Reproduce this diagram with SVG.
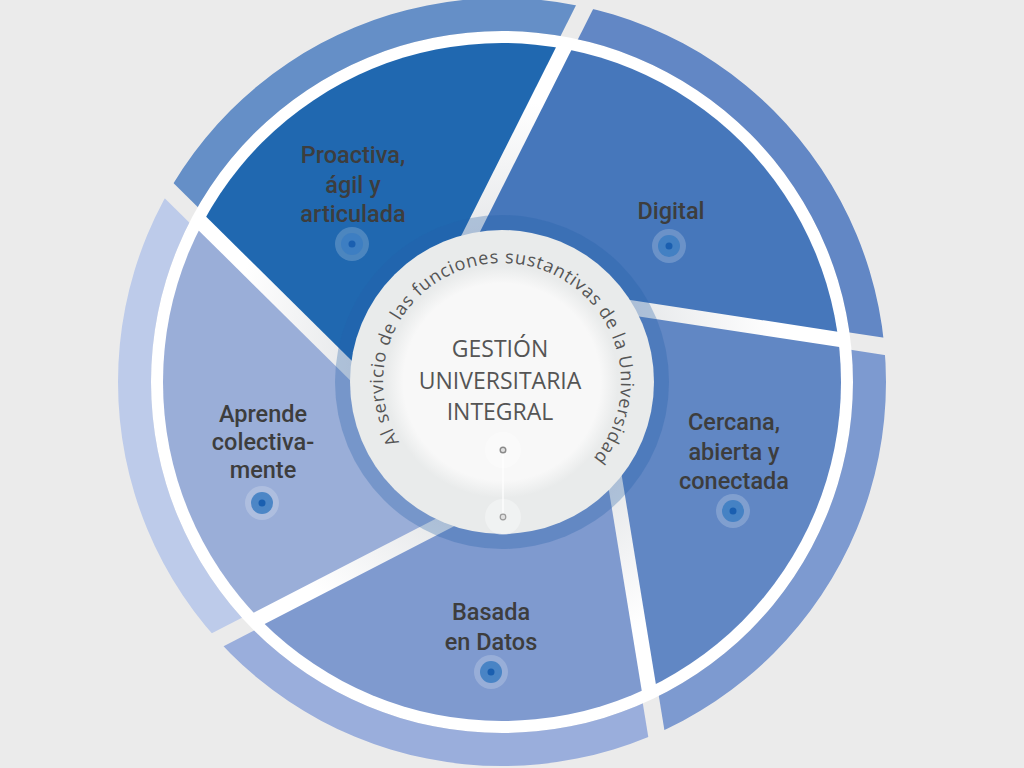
<svg xmlns="http://www.w3.org/2000/svg" width="1024" height="768" viewBox="0 0 1024 768">
<defs>
<style>
.lbl{font-family:Roboto,"Liberation Sans",sans-serif;font-weight:500;font-size:23.5px;fill:#3d3d3d;text-anchor:middle}
.ttl{font-family:"Open Sans","Liberation Sans",sans-serif;font-size:23px;fill:#555;text-anchor:middle}
.arc{font-family:"Open Sans","Liberation Sans",sans-serif;font-size:18px;letter-spacing:0.8px;fill:#555}
.halo{fill:#fff;fill-opacity:.2}
.disc{fill:#3b7cc2;fill-opacity:.85}
.dot{fill:#1a5fb0}
.pie{clip-path:url(#clipPie)}
.band{clip-path:url(#clipBand)}
</style>
<clipPath id="clipPie"><circle cx="502" cy="382" r="339"/></clipPath>
<clipPath id="clipBand"><path clip-rule="evenodd" d="M118,382 A384,384 0 1 0 886,382 A384,384 0 1 0 118,382 Z M151,382 A351,351 0 1 0 853,382 A351,351 0 1 0 151,382 Z"/></clipPath>
<radialGradient id="gBase" cx="502" cy="382" r="351" gradientUnits="userSpaceOnUse">
<stop offset="0.42" stop-color="#e6e8ea"/>
<stop offset="0.8" stop-color="#ffffff"/>
<stop offset="1" stop-color="#ffffff"/>
</radialGradient>
<radialGradient id="gInner" cx="502" cy="382" r="116" gradientUnits="userSpaceOnUse">
<stop offset="0.85" stop-color="#f8f8f8"/>
<stop offset="1" stop-color="#e9ebeb"/>
</radialGradient>
<path id="arcPath" d="M410.84,458.49 A119,119 0 1 1 578.49,473.16"/>
</defs>
<rect width="1024" height="768" fill="#ebebeb"/>
<circle cx="502" cy="382" r="351" fill="url(#gBase)"/>
<g id="connectors"/>
<g id="node-proactiva">
<path class="band" d="M382.56,389.90 L99.27,109.57 L259.1,-271.5 L624.32,-90.77 Z" fill="#658fc7"/>
<path class="pie" d="M382.84,391.59 L98.57,110.28 L259.1,-271.5 L625.21,-90.32 Z" fill="#2068b0"/>
<text class="lbl" x="353" y="163">Proactiva,</text>
<text class="lbl" x="353" y="193">ágil y</text>
<text class="lbl" x="353" y="222">articulada</text>
<circle class="halo" cx="352" cy="244" r="17"/><circle class="disc" cx="352" cy="244" r="11"/><circle class="dot" cx="352" cy="244" r="3.5"/>
</g>
<g id="node-digital">
<path class="band" d="M460.43,272.92 L639.50,-83.13 L1051.1,-49.2 L992.28,354.31 Z" fill="#6287c5"/>
<path class="pie" d="M458.91,273.70 L638.61,-83.58 L1051.1,-49.2 L992.13,355.30 Z" fill="#4677bb"/>
<text class="lbl" x="671" y="219">Digital</text>
<circle class="halo" cx="669" cy="246" r="17"/><circle class="disc" cx="669" cy="246" r="11"/><circle class="dot" cx="669" cy="246" r="3.5"/>
</g>
<g id="node-cercana">
<path class="band" d="M595.75,310.83 L989.71,371.11 L1084.4,773.4 L682.70,841.81 Z" fill="#7d9ad0"/>
<path class="pie" d="M594.54,309.63 L989.86,370.12 L1084.4,773.4 L681.71,841.97 Z" fill="#6187c4"/>
<text class="lbl" x="734" y="430">Cercana,</text>
<text class="lbl" x="734" y="460">abierta y</text>
<text class="lbl" x="734" y="489">conectada</text>
<circle class="halo" cx="733" cy="511" r="17"/><circle class="disc" cx="733" cy="511" r="11"/><circle class="dot" cx="733" cy="511" r="3.5"/>
</g>
<g id="node-basada">
<path class="band" d="M601.51,451.24 L665.92,844.55 L312.6,1058.9 L123.39,698.01 Z" fill="#9aaedc"/>
<path class="pie" d="M602.28,449.72 L666.91,844.39 L312.6,1058.9 L122.93,697.12 Z" fill="#7f9acf"/>
<text class="lbl" x="491" y="620">Basada</text>
<text class="lbl" x="491" y="650">en Datos</text>
<circle class="halo" cx="491" cy="672" r="17"/><circle class="disc" cx="491" cy="672" r="11"/><circle class="dot" cx="491" cy="672" r="3.5"/>
</g>
<g id="node-aprende">
<path class="band" d="M469.75,500.11 L115.59,682.91 L-197.4,413.1 L87.31,121.65 Z" fill="#bdcbea"/>
<path class="pie" d="M471.44,500.37 L116.05,683.80 L-197.4,413.1 L88.02,120.94 Z" fill="#9aaed8"/>
<text class="lbl" x="263" y="422">Aprende</text>
<text class="lbl" x="263" y="450">colectiva-</text>
<text class="lbl" x="263" y="478">mente</text>
<circle class="halo" cx="262" cy="503" r="17"/><circle class="disc" cx="262" cy="503" r="11"/><circle class="dot" cx="262" cy="503" r="3.5"/>
</g>
<g id="node-center">
<circle cx="502" cy="382" r="167" fill="#2360aa" fill-opacity="0.3"/>
<circle cx="502" cy="382" r="152" fill="#e9ebeb"/>
<circle cx="502" cy="382" r="116" fill="url(#gInner)"/>
<text class="arc"><textPath href="#arcPath" startOffset="50%" text-anchor="middle">Al servicio de las funciones sustantivas de la Universidad</textPath></text>
<text class="ttl" x="500" y="357">GESTIÓN</text>
<text class="ttl" x="500" y="389">UNIVERSITARIA</text>
<text class="ttl" x="500" y="420">INTEGRAL</text>
<circle cx="503" cy="450" r="18" fill="#fff" fill-opacity="0.35"/>
<circle cx="503" cy="517" r="18" fill="#fff" fill-opacity="0.35"/>
<line x1="503" y1="453" x2="503" y2="514" stroke="#fff" stroke-width="1.2"/>
<circle cx="503" cy="450" r="2.8" fill="#e0e0e0" stroke="#8a8a8a" stroke-width="1.4"/>
<circle cx="503" cy="517" r="2.8" fill="#e0e0e0" stroke="#9a9a9a" stroke-width="1.2"/>
</g>
</svg>
